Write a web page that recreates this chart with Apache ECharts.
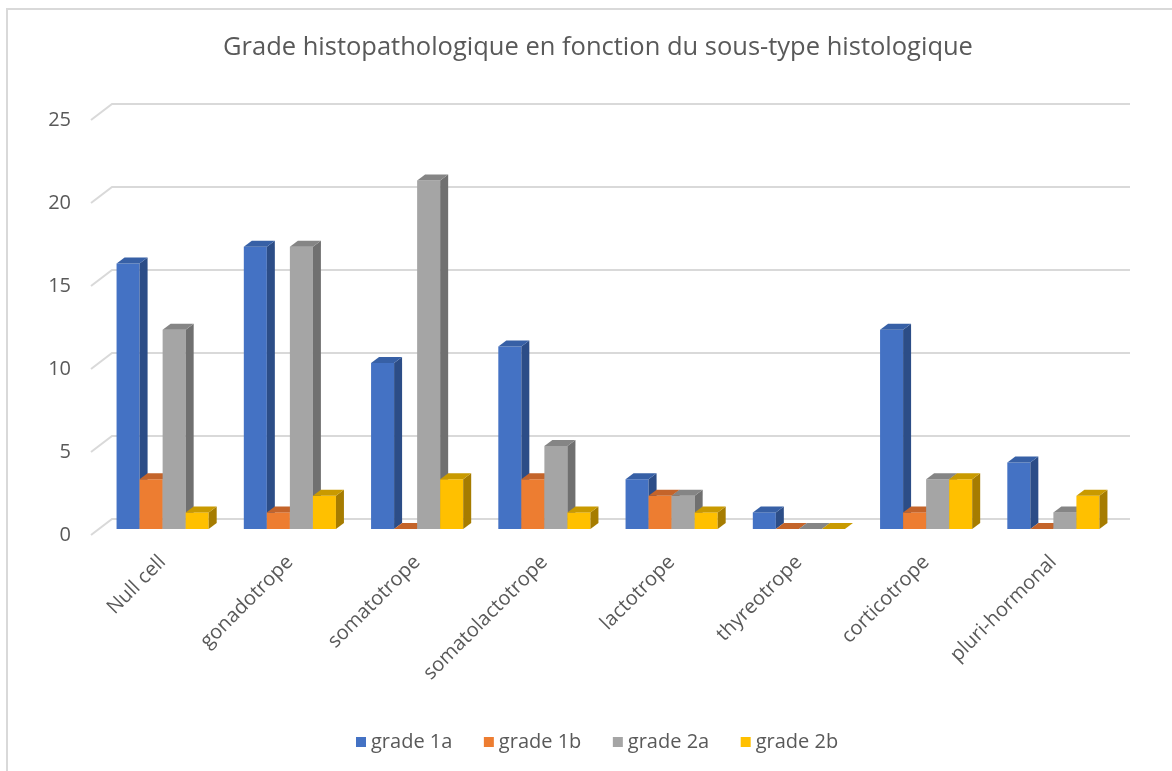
<!DOCTYPE html>
<html>
<head>
<meta charset="utf-8">
<script src="https://cdn.jsdelivr.net/npm/echarts@6/dist/echarts.min.js"></script>
<style>
  html, body { margin: 0; padding: 0; background: #fff; }
  #chart { width: 1172px; height: 771px; }
</style>
</head>
<body>
<div id="chart"></div>
<script>
const categories = ['Null cell', 'gonadotrope', 'somatotrope', 'somatolactotrope',
  'lactotrope', 'thyreotrope', 'corticotrope', 'pluri-hormonal']
const grade1a = [16, 17, 10, 11, 3, 1, 12, 4]
const grade1b = [3, 1, 0, 3, 2, 0, 1, 0]
const grade2a = [12, 17, 21, 5, 2, 0, 3, 1]
const grade2b = [1, 2, 3, 1, 1, 0, 3, 2]
const yTicks = [0, 5, 10, 15, 20, 25]

const seriesNames = ['grade 1a', 'grade 1b', 'grade 2a', 'grade 2b']
const seriesData = [grade1a, grade1b, grade2a, grade2b]
// front / side / top colours
const palette = [
  ['#4472C4', '#2C4D87', '#3760A6'],
  ['#ED7D31', '#B25C22', '#C4642A'],
  ['#A5A5A5', '#707070', '#858585'],
  ['#FFC000', '#A67C00', '#C99A00']
]
const FONT = '"Open Sans", Lato, sans-serif'
const TXT = '#595959'

// 3d depth offsets (px)
const DX = 8, DY = -6
const WALL_DX = 13, WALL_DY = -10
const EDGE_DX = -21, EDGE_DY = 16

function barRender(si) {
  return function (params, api) {
    const idx = api.value(0)
    const v = api.value(1)
    const top = api.coord([idx, v])
    const base = api.coord([idx, 0])
    const cw = api.size([1, 0])[0]
    const bw = cw * 0.181
    const x0 = top[0] - 2 * bw + si * bw
    const x1 = x0 + bw
    const c = palette[si]
    const children = []
    if (base[1] - top[1] > 0.5) {
      children.push({
        type: 'rect',
        shape: { x: x0, y: top[1], width: bw, height: base[1] - top[1] },
        style: { fill: c[0] }
      })
      children.push({
        type: 'polygon',
        shape: { points: [[x1, top[1]], [x1 + DX, top[1] + DY], [x1 + DX, base[1] + DY], [x1, base[1]]] },
        style: { fill: c[1] }
      })
    }
    children.push({
      type: 'polygon',
      shape: { points: [[x0, top[1]], [x0 + DX, top[1] + DY], [x1 + DX, top[1] + DY], [x1, top[1]]] },
      style: { fill: c[2] }
    })
    return { type: 'group', children: children }
  }
}

function wallRender(params, api) {
  const cs = params.coordSys
  const y = api.coord([0, api.value(1)])[1] + WALL_DY
  const xl = cs.x + WALL_DX
  const xr = cs.x + cs.width + WALL_DX
  return {
    type: 'polyline',
    shape: { points: [[xr, y], [xl, y], [xl + EDGE_DX, y + EDGE_DY]] },
    style: { stroke: '#D9D9D9', lineWidth: 2, fill: null }
  }
}

const chart = echarts.init(document.getElementById('chart'))

const series = [{
  type: 'custom',
  name: 'wall',
  xAxisIndex: 1,
  yAxisIndex: 1,
  z: 1,
  silent: true,
  data: yTicks.map(v => [0, v]),
  renderItem: wallRender
}]
seriesData.forEach((arr, si) => {
  series.push({
    type: 'custom',
    name: seriesNames[si],
    xAxisIndex: 1,
    yAxisIndex: 1,
    z: 2 + si,
    itemStyle: { color: palette[si][0] },
    data: arr.map((v, i) => [i, v]),
    renderItem: barRender(si)
  })
})

chart.setOption({
  animation: false,
  backgroundColor: '#fff',
  title: {
    text: 'Grade histopathologique en fonction du sous-type histologique',
    left: 218,
    top: 30,
    textStyle: { fontFamily: FONT, fontSize: 25.5, fontWeight: 'normal', color: TXT }
  },
  graphic: [{
    type: 'rect',
    shape: { x: 7, y: 9, width: 1300, height: 900 },
    style: { fill: null, stroke: '#D9D9D9', lineWidth: 2 },
    silent: true
  }],
  legend: {
    data: seriesNames,
    left: 351,
    top: 727,
    icon: 'rect',
    itemWidth: 10,
    itemHeight: 10,
    itemGap: 31.5,
    textStyle: { fontFamily: FONT, fontSize: 20, color: TXT }
  },
  grid: [
    // front edge of the floor: y labels
    { left: 91, right: 63, top: 120, bottom: 236 },
    // bar plane
    { left: 99, right: 55, top: 114, bottom: 242 }
  ],
  xAxis: [
    { gridIndex: 0, type: 'category', data: categories, show: false },
    {
      gridIndex: 1,
      type: 'category',
      data: categories,
      axisLine: { show: false },
      axisTick: { show: false },
      axisLabel: {
        interval: 0,
        rotate: 45,
        margin: 30,
        fontFamily: FONT,
        fontSize: 20,
        color: TXT
      }
    }
  ],
  yAxis: [
    {
      gridIndex: 0,
      type: 'value',
      min: 0,
      max: 25,
      interval: 5,
      axisLine: { show: false },
      axisTick: { show: false },
      splitLine: { show: false },
      axisLabel: { margin: 20, fontFamily: FONT, fontSize: 20, color: TXT }
    },
    {
      gridIndex: 1,
      type: 'value',
      min: 0,
      max: 25,
      interval: 5,
      show: false,
      splitLine: { show: false }
    }
  ],
  series: series
})
</script>
</body>
</html>
